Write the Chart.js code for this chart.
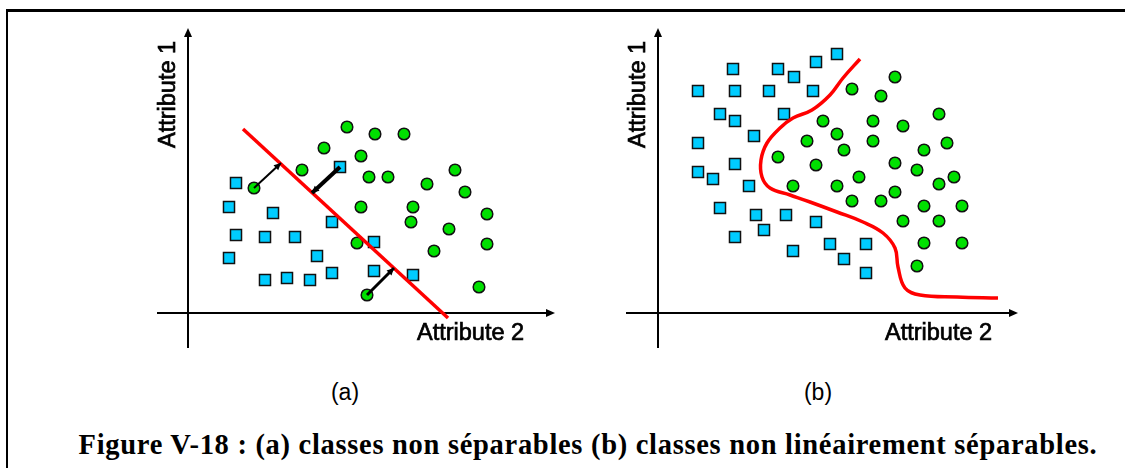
<!DOCTYPE html>
<html>
<head>
<meta charset="utf-8">
<script src="https://cdn.jsdelivr.net/npm/chart.js@4"></script>
<style>
  body { margin: 0; width: 1125px; height: 468px; background: #fff; position: relative; overflow: hidden; }
  #frame { position: absolute; left: 6px; top: 9px; width: 1140px; height: 480px; border-left: 2px solid #000; border-top: 3px solid #000; }
  canvas { position: absolute; }
  #chA { left: 150px; top: 22px; }
  #chB { left: 620px; top: 22px; }
  .sub { position: absolute; top: 379px; font: 23px "Liberation Sans", Arial, sans-serif; color: #000; width: 60px; text-align: center; }
  #caption { position: absolute; left: 0; width: 1176px; top: 429px; line-height: 30px; text-align: center; font: bold 28.5px "Liberation Serif", "Times New Roman", serif; letter-spacing: 0.7px; color: #000; white-space: nowrap; }
</style>
</head>
<body>
<div id="frame"></div>
<canvas id="chA" width="410" height="332"></canvas>
<canvas id="chB" width="410" height="332"></canvas>
<div class="sub" style="left:315px">(a)</div>
<div class="sub" style="left:788px">(b)</div>
<div id="caption">Figure V-18 : (a) classes non séparables (b) classes non linéairement séparables.</div>
<script>

// (a) classes non séparables
var squaresA = [[4.8,13.0],[4.1,10.6],[8.5,10.0],[14.4,9.1],[4.8,7.8],[7.7,7.6],[10.7,7.6],[4.1,5.5],
    [12.9,5.7],[18.6,7.1],[7.7,3.3],[9.9,3.5],[12.2,3.3],[14.4,4.0],[18.6,4.2],[22.5,3.8],[15.2,14.6]];
var circlesA = [[15.9,18.6],[18.7,17.9],[21.6,17.9],[13.6,16.5],[17.3,15.7],[11.4,14.3],[18.1,13.6],[20.0,13.6],
    [6.6,12.5],[23.9,12.9],[26.7,14.3],[27.7,12.1],[17.3,10.6],[22.5,10.6],[22.3,9.1],[29.9,9.9],
    [26.1,8.4],[16.9,7.0],[24.6,6.2],[29.9,6.9],[29.1,2.6],[17.9,1.8]];
var lineA = [[5.5,18.4],[26.0,-0.5]];
var distA = [
    [[6.6,12.5],[9.3,15.0]],
    [[15.2,14.6],[12.4,12.0]],
    [[17.9,1.8],[20.6,4.5]]
];

// (b) classes non linéairement séparables
var squaresB = [[17.9,25.9],[15.8,25.1],[7.5,24.4],[12.0,24.4],[13.6,23.6],[4.0,22.2],[7.7,22.2],[11.1,22.2],
    [15.5,22.2],[6.2,19.9],[7.7,19.2],[12.6,19.9],[9.6,17.7],[4.0,17.0],[7.7,14.9],[4.0,14.1],
    [5.5,13.4],[9.1,12.7],[6.2,10.5],[9.8,9.8],[12.8,9.8],[15.8,9.1],[10.6,8.3],[7.7,7.6],
    [13.5,6.2],[17.2,6.9],[20.8,6.9],[18.6,5.4],[20.8,4.0]];
var circlesB = [[23.7,23.6],[19.4,22.4],[22.3,21.7],[28.1,19.9],[16.5,19.2],[21.5,19.2],[24.5,18.7],[17.9,17.9],
    [14.9,17.2],[21.5,17.2],[18.6,16.3],[26.6,16.3],[28.9,17.0],[12.0,15.6],[15.8,14.8],[23.7,15.0],
    [25.9,14.3],[20.1,13.6],[29.6,13.6],[28.1,12.9],[13.5,12.7],[17.9,12.7],[23.7,12.1],[19.4,11.2],
    [22.3,11.2],[26.6,10.7],[30.4,10.7],[24.5,9.2],[28.1,9.2],[26.6,7.0],[30.4,7.0],[25.9,4.7]];
var curveB = [[20.2,25.4],[18.5,23.5],[17.2,21.8],[15.4,20.3],[13.5,19.5],[12.2,18.5],[10.9,17.0],[10.3,15.3],
    [10.4,13.6],[11.2,12.5],[13.2,11.8],[15.2,11.1],[17.9,10.1],[20.5,9.1],[22.5,8.0],[23.7,6.5],
    [24.0,4.6],[24.7,2.5],[26.2,1.8],[29.9,1.6],[34.0,1.5]];

var axisLabels = ["Attribute 1", "Attribute 2"];

function pts(arr){
    return arr.map((p) => ({x: p[0], y: p[1]}));
}

function arrowHead(ctx, fx, fy, tx, ty, len, half){
    var a = Math.atan2(ty - fy, tx - fx);
    ctx.beginPath();
    ctx.moveTo(tx, ty);
    ctx.lineTo(tx - len*Math.cos(a) + half*Math.sin(a), ty - len*Math.sin(a) - half*Math.cos(a));
    ctx.lineTo(tx - len*Math.cos(a) - half*Math.sin(a), ty - len*Math.sin(a) + half*Math.cos(a));
    ctx.closePath();
    ctx.fill();
}

function label(ctx, text, x, y){
    ctx.fillText(text, x, y);
    ctx.strokeText(text, x, y);
}

const axesPlugin = {
    id: 'axes',
    beforeDatasetsDraw(chart, args, opts){
        const {ctx, scales: {x, y}} = chart;
        const ox = x.getPixelForValue(0), oy = y.getPixelForValue(0);
        const xa = x.getPixelForValue(opts.xFrom), xb = x.getPixelForValue(opts.xTo);
        const ya = y.getPixelForValue(opts.yFrom), yb = y.getPixelForValue(opts.yTo);
        ctx.save();
        ctx.strokeStyle = "#000";
        ctx.fillStyle = "#000";
        ctx.lineWidth = 2;
        ctx.beginPath();
        ctx.moveTo(xa, oy); ctx.lineTo(xb - 4, oy);
        ctx.moveTo(ox, ya); ctx.lineTo(ox, yb + 4);
        ctx.stroke();
        arrowHead(ctx, xa, oy, xb, oy, 9, 4);
        arrowHead(ctx, ox, ya, ox, yb, 9, 4);

        // axis names, drawn a little heavier like the original
        ctx.font = "23.5px 'Liberation Sans', Arial, sans-serif";
        ctx.lineWidth = 0.7;
        ctx.textBaseline = "alphabetic";
        ctx.textAlign = "left";
        label(ctx, axisLabels[1], x.getPixelForValue(opts.x2At), oy + 27);
        ctx.translate(ox - 13, y.getPixelForValue(opts.y1At));
        ctx.rotate(-Math.PI/2);
        label(ctx, axisLabels[0], 0, 0);
        ctx.restore();
    },
    afterDatasetsDraw(chart){
        const {ctx, scales: {x, y}} = chart;
        ctx.save();
        ctx.fillStyle = "#000";
        chart.data.datasets.forEach((ds) => {
            if(!ds.arrow) return;
            const a = ds.data[0], b = ds.data[1];
            arrowHead(ctx, x.getPixelForValue(a.x), y.getPixelForValue(a.y),
                x.getPixelForValue(b.x), y.getPixelForValue(b.y), 7, 3.5);
        });
        ctx.restore();
    }
};

function pointSets(squares, circles){
    return [{
        label: "carrés",
        data: pts(squares),
        pointStyle: "rect",
        pointRadius: 7.8,
        backgroundColor: "#00ccff",
        borderColor: "#111",
        borderWidth: 1.5,
        showLine: false,
        order: 3
    },{
        label: "cercles",
        data: pts(circles),
        pointStyle: "circle",
        pointRadius: 5.8,
        backgroundColor: "#00e000",
        borderColor: "#111",
        borderWidth: 1.5,
        showLine: false,
        order: 3
    }];
}

function makeChart(id, datasets, axes){
    return new Chart(document.getElementById(id), {
        type: 'scatter',
        data: { datasets: datasets },
        options: {
            responsive: false,
            animation: false,
            layout: { padding: 0, autoPadding: false },
            scales: {
                x: { type: 'linear', display: false, min: -3.8, max: 37.2 },
                y: { type: 'linear', display: false, min: -4.1, max: 29.1 }
            },
            plugins: {
                legend: { display: false },
                tooltip: { enabled: false },
                axes: axes
            }
        },
        plugins: [axesPlugin]
    });
}

var dsA = pointSets(squaresA, circlesA);
dsA.push({
    label: "séparation",
    data: pts(lineA),
    showLine: true,
    borderColor: "#ff0000",
    borderWidth: 3.5,
    pointRadius: 0,
    order: 2
});
distA.forEach((seg, i) => {
    dsA.push({
        label: "distance " + (i+1),
        data: pts(seg),
        showLine: true,
        arrow: true,
        borderColor: "#000",
        borderWidth: [2, 4, 3][i],
        pointRadius: 0,
        order: 1
    });
});

var dsB = pointSets(squaresB, circlesB);
dsB.push({
    label: "séparation",
    data: pts(curveB),
    showLine: true,
    borderColor: "#ff0000",
    borderWidth: 3.5,
    tension: 0.4,
    pointRadius: 0,
    order: 2
});

makeChart("chA", dsA, { xFrom: -3.1, xTo: 36.7, yFrom: -3.5, yTo: 28.5, x2At: 22.9, y1At: 16.5 });
makeChart("chB", dsB, { xFrom: -3.2, xTo: 36.0, yFrom: -3.5, yTo: 28.5, x2At: 22.7, y1At: 16.5 });

</script>
</body>
</html>
